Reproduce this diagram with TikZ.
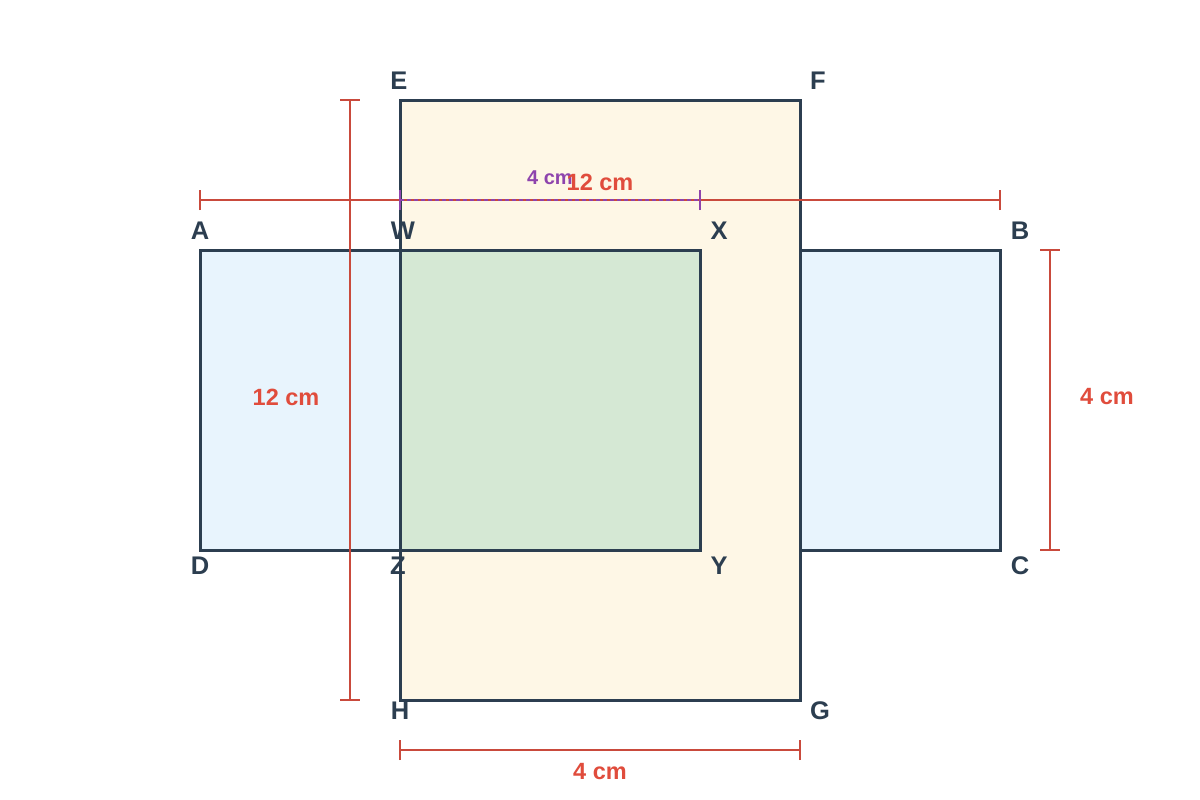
\documentclass[tikz,border=0pt]{standalone}
\usepackage{fontspec}
\setmainfont{Liberation Sans}
\begin{document}
\begin{tikzpicture}[x=1pt,y=-1pt,
  shapebox/.style={draw=edge,line width=3pt,line join=miter},
  ptlabel/.style={text=edge,font=\fontsize{25.5}{25.5}\selectfont\bfseries,inner sep=0pt},
  dimline/.style={draw=dimred,line width=1.6pt},
  dimtext/.style={text=txtred,font=\fontsize{23.5}{23.5}\selectfont\bfseries,inner sep=0pt},
  purpline/.style={draw=purp,line width=1.4pt},
  purptext/.style={text=purp,font=\fontsize{20}{20}\selectfont\bfseries,inner sep=0pt}]
\definecolor{edge}{HTML}{2C3E50}
\definecolor{dimred}{HTML}{C94A3C}
\definecolor{txtred}{HTML}{E04C3C}
\definecolor{purp}{HTML}{8E44AD}
\definecolor{bluef}{HTML}{E8F4FD}
\definecolor{yellowf}{HTML}{FEF7E6}
\definecolor{greenf}{HTML}{D5E8D4}
\useasboundingbox (0,0) rectangle (1200,800);
\fill[white] (0,0) rectangle (1200,800);
% coordinates
\coordinate (A) at (200,250); \coordinate (B) at (1000,250);
\coordinate (C) at (1000,550); \coordinate (D) at (200,550);
\coordinate (E) at (400,100); \coordinate (F) at (800,100);
\coordinate (G) at (800,700); \coordinate (H) at (400,700);
\coordinate (W) at (400,250); \coordinate (X) at (700,250);
\coordinate (Y) at (700,550); \coordinate (Z) at (400,550);
% shapes
\draw[shapebox,fill=bluef] (A) -- (B) -- (C) -- (D) -- cycle;
\draw[shapebox,fill=yellowf] (E) -- (F) -- (G) -- (H) -- cycle;
\draw[shapebox,fill=greenf] (W) -- (X) -- (Y) -- (Z) -- cycle;
% point labels
\node[ptlabel] (lA) at (200,231) {A};
\node[ptlabel] (lB) at (1020,231) {B};
\node[ptlabel] (lC) at (1020,566) {C};
\node[ptlabel] (lD) at (200,566) {D};
\node[ptlabel] (lE) at (399,81) {E};
\node[ptlabel] (lF) at (818,81) {F};
\node[ptlabel] (lG) at (820,711) {G};
\node[ptlabel] (lH) at (400,711) {H};
\node[ptlabel] (lW) at (403,231) {W};
\node[ptlabel] (lX) at (719,231) {X};
\node[ptlabel] (lY) at (719,566) {Y};
\node[ptlabel] (lZ) at (398,566) {Z};
% dimension: top horizontal 12 cm
\coordinate (t1) at (200,200); \coordinate (t2) at (1000,200);
\draw[dimline] (t1) -- (t2);
\draw[dimline] ([yshift=-10pt]t1) -- ([yshift=10pt]t1);
\draw[dimline] ([yshift=-10pt]t2) -- ([yshift=10pt]t2);
% dimension: left vertical 12 cm
\coordinate (v1) at (350,100); \coordinate (v2) at (350,700);
\draw[dimline] (v1) -- (v2);
\draw[dimline] ([xshift=-10pt]v1) -- ([xshift=10pt]v1);
\draw[dimline] ([xshift=-10pt]v2) -- ([xshift=10pt]v2);
% dimension: right vertical 4 cm
\coordinate (r1) at (1050,250); \coordinate (r2) at (1050,550);
\draw[dimline] (r1) -- (r2);
\draw[dimline] ([xshift=-10pt]r1) -- ([xshift=10pt]r1);
\draw[dimline] ([xshift=-10pt]r2) -- ([xshift=10pt]r2);
% dimension: bottom 4 cm
\coordinate (b1) at (400,750); \coordinate (b2) at (800,750);
\draw[dimline] (b1) -- (b2);
\draw[dimline] ([yshift=-10pt]b1) -- ([yshift=10pt]b1);
\draw[dimline] ([yshift=-10pt]b2) -- ([yshift=10pt]b2);
% purple dashed 4 cm
\coordinate (p1) at (400,200); \coordinate (p2) at (700,200);
\draw[purpline,dash pattern=on 4pt off 3pt] (p1) -- (p2);
\draw[purpline] ([yshift=-10pt]p1) -- ([yshift=10pt]p1);
\draw[purpline] ([yshift=-10pt]p2) -- ([yshift=10pt]p2);
% texts
\node[purptext] (pt) at (550,178) {4 cm};
\node[dimtext] (d1) at (600,182) {12 cm};
\node[dimtext] (d2) at (286,397) {12 cm};
\node[dimtext] (d3) at (1107,397) {4 cm};
\node[dimtext] (d4) at (600,772) {4 cm};
\end{tikzpicture}
\end{document}
